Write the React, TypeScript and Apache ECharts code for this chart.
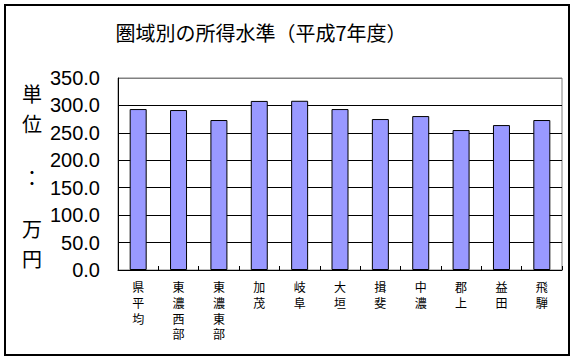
import React, { useEffect, useRef } from "react";
import * as echarts from "echarts";

const categories = ["県平均", "東濃西部", "東濃東部", "加茂", "岐阜", "大垣", "揖斐", "中濃", "郡上", "益田", "飛騨"];
const values = [293.4, 291.6, 273.4, 308.2, 308.5, 293.4, 275.2, 280.6, 255.1, 264.2, 273.4];
const titleText = "圏域別の所得水準（平成7年度）";
const unitChars = ["単", "位", "：", "万", "円"];
const unitYs = [93, 123, 177, 228, 258];

export default function App() {
  const ref = useRef<HTMLDivElement>(null);
  useEffect(() => {
    document.body.style.margin = "0";
    const chart = echarts.init(ref.current!, null, { renderer: "svg" });
    chart.setOption({
      animation: false,
      backgroundColor: "#fff",
      grid: {
        left: 118,
        top: 78,
        right: 15,
        bottom: 92,
        show: true,
        borderColor: "#808080",
        borderWidth: 1,
        backgroundColor: "transparent",
      },
      xAxis: {
        type: "category",
        data: categories,
        axisLine: { show: true, lineStyle: { color: "#000", width: 1 } },
        axisTick: { show: true, inside: true, length: 4, lineStyle: { color: "#000" } },
        axisLabel: {
          interval: 0,
          margin: 9,
          fontSize: 12,
          lineHeight: 15.6,
          color: "#000",
          fontFamily: "Noto Sans CJK JP",
          formatter: (v: string) => v.split("").join("\n"),
        },
      },
      yAxis: {
        type: "value",
        min: 0,
        max: 350,
        interval: 50,
        axisLine: { show: true, lineStyle: { color: "#000", width: 1 } },
        axisTick: { show: false },
        axisLabel: {
          margin: 18,
          fontSize: 20,
          color: "#000",
          fontFamily: "Liberation Sans",
          formatter: (v: number) => v.toFixed(1),
        },
        splitLine: {
          show: true,
          lineStyle: {
            color: ["#000", "#000", "#000", "#000", "#000", "#000", "#000", "#808080"],
            width: 1,
          },
        },
      },
      series: [
        {
          type: "bar",
          data: values,
          barWidth: 17,
          itemStyle: { color: "#9999FF", borderColor: "#000", borderWidth: 1 },
        },
      ],
      graphic: [
        {
          type: "rect",
          shape: { x: 5, y: 5, width: 564, height: 350 },
          style: { fill: "none", stroke: "#000", lineWidth: 2 },
          silent: true,
        },
        {
          type: "text",
          x: 261,
          y: 32,
          style: {
            text: titleText,
            fontSize: 20,
            fontFamily: "Noto Sans CJK JP",
            fill: "#000",
            align: "center",
            verticalAlign: "middle",
          },
        },
        ...unitChars.map((c, i) => ({
          type: "text",
          x: 32,
          y: unitYs[i],
          style: {
            text: c,
            fontSize: 20,
            fontFamily: "Noto Sans CJK JP",
            fill: "#000",
            align: "center",
            verticalAlign: "middle",
          },
        })),
      ],
    });
    return () => chart.dispose();
  }, []);
  return <div ref={ref} style={{ width: 577, height: 362 }} />;
}
